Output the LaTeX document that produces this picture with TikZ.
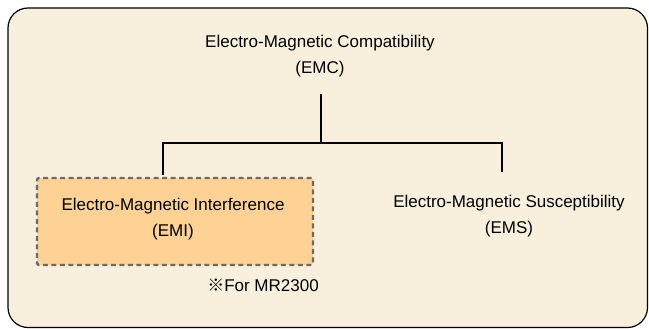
\documentclass[tikz,border=0pt]{standalone}
\usepackage{fontspec}
\setmainfont{Liberation Sans}
\newfontfamily\cjk{Noto Sans CJK JP}
\definecolor{cream}{HTML}{F8F0DC}
\definecolor{peach}{HTML}{FDD294}
\definecolor{dashgray}{HTML}{6B6B6B}
\begin{document}
\begin{tikzpicture}[x=1pt,y=-1pt,
  lbl/.style={align=center,font=\fontsize{17}{26}\selectfont,inner sep=0pt},
  conn/.style={line width=2.6pt,black},
  emibox/.style={draw=dashgray,fill=peach,line width=2.2pt,dash pattern=on 5pt off 3.5pt,rounded corners=1.5pt,minimum width=276pt,minimum height=87pt,inner sep=0pt}]
\useasboundingbox (0,0) rectangle (649,329);
\draw[fill=cream,line width=1.2pt,rounded corners=20pt] (8,8) rectangle (647.5,327.5);
\node[lbl] (emc) at (320,56.5) {Electro-Magnetic Compatibility\\(EMC)};
\node[emibox] (emi) at (175,221.5) {};
\node[lbl] (emit) at (173,219.5) {Electro-Magnetic Interference\\(EMI)};
\node[lbl] (ems) at (509,216) {Electro-Magnetic Susceptibility\\(EMS)};
\node[lbl,font=\fontsize{17}{20}\selectfont] (note) at (263,285) {{\cjk ※}For MR2300};
\coordinate (ctop) at (321,94);
\coordinate (cj) at (321,143);
\coordinate (cl) at (163,143);
\coordinate (cr) at (502,143);
\coordinate (clend) at (163,175);
\coordinate (crend) at (502,172);
\draw[conn] (ctop) -- (cj);
\draw[conn] (clend) -- (cl) -- (cr) -- (crend);
\end{tikzpicture}
\end{document}
